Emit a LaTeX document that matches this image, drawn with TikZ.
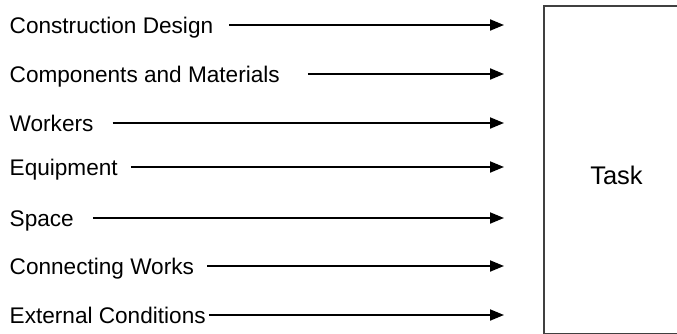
\documentclass[tikz,border=0pt]{standalone}
\usepackage{fontspec}
\setmainfont{Liberation Sans}
\usetikzlibrary{arrows.meta}
\begin{document}
\begin{tikzpicture}[x=1pt,y=-1pt,
  lbl/.style={anchor=base west,inner sep=0pt,font=\fontsize{22.6}{27}\selectfont},
  feed/.style={line width=1.9pt,-{Triangle[length=14pt,width=11pt]}},
  taskbox/.style={draw=black!75,line width=1.6pt}]
\useasboundingbox (0,0) rectangle (677,333);
\fill[white] (0,0) rectangle (677,333);
\node[taskbox,minimum width=146pt,minimum height=328pt,inner sep=0pt] (task) at (617,170) {};
\node[font=\fontsize{25.5}{30}\selectfont,inner sep=0pt] (tasktext) at (616.5,175) {Task};
\foreach \i/\y/\g/\t in {1/25/16/Construction Design,2/74/28/Components and Materials,3/123/19/Workers,4/167/13/Equipment,5/218/19/Space,6/266/13/Connecting Works,7/315/3/External Conditions}{
  \node[lbl] (l\i) at (9.5,\y+8) {\t};
  \coordinate (t\i) at (504,\y);
  \draw[feed] (l\i.east |- t\i) ++(\g,0) -- (t\i);
}
\end{tikzpicture}
\end{document}
